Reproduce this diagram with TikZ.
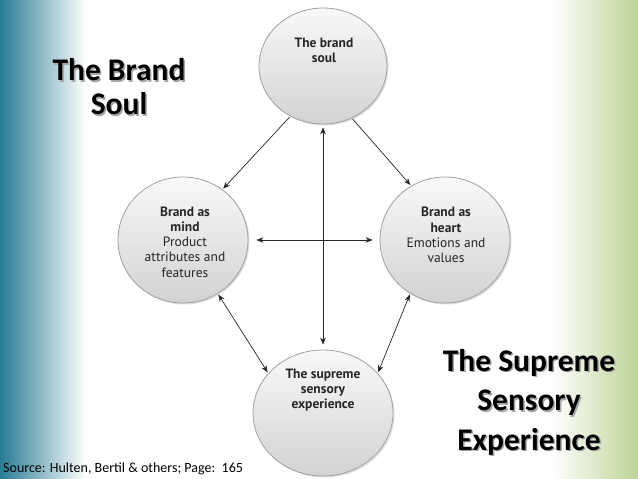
\documentclass[tikz,border=0pt]{standalone}
\usepackage{fontspec}
\setmainfont{Carlito}
\newfontfamily\circfont{PT Sans}
\usetikzlibrary{shapes.geometric,shadows,arrows.meta}
\definecolor{tealbg}{RGB}{38,124,148}
\definecolor{greenbg}{RGB}{188,212,150}
\definecolor{bubbleedge}{RGB}{160,160,160}
\begin{document}
\begin{tikzpicture}[x=1pt,y=-1pt,
  bubble/.style={ellipse, draw=bubbleedge, line width=0.8pt, top color=gray!5, bottom color=gray!35,
    drop shadow={opacity=0.25,shadow xshift=1.5pt,shadow yshift=-1.5pt}, inner sep=0pt},
  btext/.style={font=\circfont\fontsize{13.5}{15.2}\selectfont, align=center, text=black!85},
  title/.style={font=\bfseries\fontsize{31.5}{34}\selectfont, align=center},
  tshadow/.style={title, text=black!35},
  tip/.tip={Stealth[length=7pt,width=5.5pt]},
  link/.style={line width=0.7pt, draw=black!85, -tip, shorten >=1pt, shorten <=1pt},
  both/.style={link, tip-tip}
]
\useasboundingbox (0,0) rectangle (638,479);
\fill[white] (0,0) rectangle (638,479);
\shade[left color=tealbg, right color=white] (0,0) rectangle (86,479);
\shade[left color=white, right color=greenbg] (552,0) rectangle (638,479);

% bubbles
\node[bubble, minimum width=128pt, minimum height=116pt] (soul) at (323,66) {};
\node[bubble, minimum width=130pt, minimum height=126pt] (mind) at (183,240) {};
\node[bubble, minimum width=130pt, minimum height=126pt] (heart) at (445,240) {};
\node[bubble, minimum width=140pt, minimum height=126pt] (sense) at (323,413) {};

% bubble texts
\node[btext] (soult) at (324,50) {\textbf{The brand}\\\textbf{soul}};
\node[btext] (mindt) at (185,242) {\textbf{Brand as}\\\textbf{mind}\\Product\\attributes and\\features};
\node[btext] (heartt) at (446,235) {\textbf{Brand as}\\\textbf{heart}\\Emotions and\\values};
\node[btext] (senset) at (323,390) {\textbf{The supreme}\\\textbf{sensory}\\\textbf{experience}};

% connectors
\draw[link] (soul.237) -- (mind.52);
\draw[link] (soul.-61) -- (heart.122);
\draw[both, shorten <=3pt, shorten >=5pt] (soul.south) -- (sense.north);
\draw[both, shorten <=8pt, shorten >=7pt] (mind.east) -- (heart.west);
\draw[both] (mind.-57) -- (sense.144);
\draw[both] (heart.-123) -- (sense.36);

% titles
\node[tshadow] (bsshadow) at (120.5,88.5) {The Brand\\Soul};
\node[title] (brandsoul) at (119,87) {The Brand\\Soul};
\node[tshadow, font=\bfseries\fontsize{31.5}{39.5}\selectfont] (sseshadow) at (530.5,403.5) {The Supreme\\Sensory\\Experience};
\node[title, font=\bfseries\fontsize{31.5}{39.5}\selectfont] (sse) at (529,402) {The Supreme\\Sensory\\Experience};

% source
\node[anchor=base west, inner sep=0pt, font=\fontsize{14}{16}\selectfont] (src) at (3,472) {Source: Hulten, Bertil \& others; Page:\ \ 165};
\end{tikzpicture}
\end{document}
